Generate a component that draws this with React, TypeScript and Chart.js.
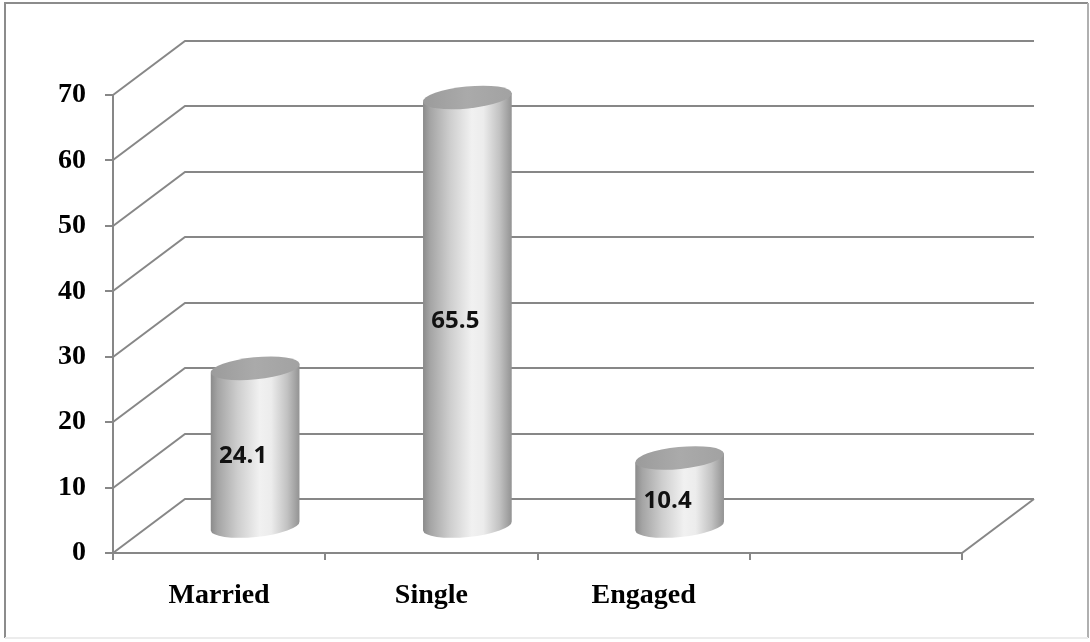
import { useEffect, useRef } from "react";
import { Chart, registerables } from "chart.js";

Chart.register(...registerables);

// Marital status shares (%)
const categories = ["Married", "Single", "Engaged", ""];
const shares = [24.1, 65.5, 10.4];
const yMin = 0;
const yMax = 70;
const yStep = 10;

// Oblique projection of the back wall
const DEPTH_X = 72;
const DEPTH_Y = 54;
const GRID_COLOR = "#878787";

const serifFont = '"Liberation Serif", "Times New Roman", serif';

const frame3d = {
  id: "frame3d",
  beforeDraw(chart: any) {
    const { ctx, width, height } = chart;
    ctx.save();
    ctx.fillStyle = "#ffffff";
    ctx.fillRect(0, 0, width, height);
    ctx.lineWidth = 2;
    ctx.strokeStyle = "#8c8c8c";
    ctx.beginPath();
    ctx.moveTo(5, height - 4);
    ctx.lineTo(5, 3);
    ctx.lineTo(width - 2, 3);
    ctx.stroke();
    ctx.strokeStyle = "#b0b0b0";
    ctx.beginPath();
    ctx.moveTo(width - 2, 3);
    ctx.lineTo(width - 2, height - 4);
    ctx.stroke();
    ctx.strokeStyle = "#ececec";
    ctx.beginPath();
    ctx.moveTo(5, height - 4);
    ctx.lineTo(width - 2, height - 4);
    ctx.stroke();
    ctx.restore();
  },
  beforeDatasetsDraw(chart: any) {
    const { ctx, chartArea } = chart;
    const yScale = chart.scales.y;
    const { left, right, bottom } = chartArea;
    ctx.save();
    ctx.strokeStyle = GRID_COLOR;
    ctx.lineWidth = 2;
    ctx.lineJoin = "miter";
    ctx.lineCap = "butt";

    // side wall diagonals and back wall grid lines
    for (let v = yMin; v <= yMax; v += yStep) {
      const py = Math.round(yScale.getPixelForValue(v));
      ctx.beginPath();
      ctx.moveTo(left, py);
      ctx.lineTo(left + DEPTH_X, py - DEPTH_Y);
      ctx.lineTo(right + DEPTH_X, py - DEPTH_Y);
      ctx.stroke();
      // tick mark
      ctx.beginPath();
      ctx.moveTo(left - 8, py);
      ctx.lineTo(left, py);
      ctx.stroke();
    }

    // value axis
    ctx.beginPath();
    ctx.moveTo(left, Math.round(yScale.getPixelForValue(yMax)));
    ctx.lineTo(left, bottom);
    ctx.stroke();

    // floor front and right edges
    ctx.beginPath();
    ctx.moveTo(left, bottom);
    ctx.lineTo(right, bottom);
    ctx.lineTo(right + DEPTH_X, bottom - DEPTH_Y);
    ctx.stroke();

    // category boundary ticks
    const n = categories.length;
    for (let i = 0; i <= n; i++) {
      const px = Math.round(left + (i * (right - left)) / n);
      ctx.beginPath();
      ctx.moveTo(px, bottom);
      ctx.lineTo(px, bottom + 7);
      ctx.stroke();
    }
    ctx.restore();
  },
  afterDatasetsDraw(chart: any) {
    const { ctx } = chart;
    const meta = chart.getDatasetMeta(0);
    const values = chart.data.datasets[0].data as number[];
    const rot = -0.1;
    meta.data.forEach((bar: any, i: number) => {
      const { x, y, base, width } = bar.getProps(["x", "y", "base", "width"], true);
      const cx = x + DEPTH_X / 2;
      const yTop = y - DEPTH_Y / 2;
      const yBot = base - DEPTH_Y / 2;
      const rx = width / 2;
      const ry = 11;
      const ex = rx * Math.cos(rot);
      const ey = rx * Math.sin(rot);

      ctx.save();
      // body
      const g = ctx.createLinearGradient(cx - rx, 0, cx + rx, 0);
      g.addColorStop(0, "#8a8a8a");
      g.addColorStop(0.08, "#a4a4a4");
      g.addColorStop(0.3, "#cdcdcd");
      g.addColorStop(0.55, "#f1f1f1");
      g.addColorStop(0.68, "#ececec");
      g.addColorStop(0.86, "#c2c2c2");
      g.addColorStop(1, "#929292");
      ctx.fillStyle = g;
      ctx.beginPath();
      ctx.ellipse(cx, yBot, rx, ry, rot, 0, Math.PI, false);
      ctx.lineTo(cx - ex, yTop - ey);
      ctx.lineTo(cx + ex, yTop + ey);
      ctx.closePath();
      ctx.fill();

      // top cap
      const gt = ctx.createLinearGradient(cx - rx, yTop, cx + rx, yTop);
      gt.addColorStop(0, "#9b9b9b");
      gt.addColorStop(0.5, "#aaaaaa");
      gt.addColorStop(1, "#a2a2a2");
      ctx.fillStyle = gt;
      ctx.beginPath();
      ctx.ellipse(cx, yTop, rx, ry, rot, 0, Math.PI * 2);
      ctx.fill();

      // value label
      ctx.fillStyle = "#111111";
      ctx.font = 'bold 24px "Open Sans", "Noto Sans", sans-serif';
      ctx.textAlign = "center";
      ctx.textBaseline = "middle";
      ctx.fillText(
        values[i].toFixed(1),
        x + DEPTH_X / 3,
        (y + base) / 2 - DEPTH_Y / 3
      );
      ctx.restore();
    });
  },
};

export default function App() {
  const canvasRef = useRef<HTMLCanvasElement | null>(null);

  useEffect(() => {
    const canvas = canvasRef.current;
    if (!canvas) return;
    const chart = new Chart(canvas, {
      type: "bar",
      data: {
        labels: categories,
        datasets: [
          {
            data: shares,
            backgroundColor: "rgba(0,0,0,0)",
            borderWidth: 0,
            categoryPercentage: 1,
            barPercentage: 0.42,
          },
        ],
      },
      options: {
        responsive: false,
        animation: false,
        devicePixelRatio: 1,
        layout: { padding: { top: 95, right: 128, bottom: 0, left: 0 } },
        plugins: {
          legend: { display: false },
          tooltip: { enabled: false },
        },
        scales: {
          x: {
            grid: { display: false, drawTicks: false },
            border: { display: false },
            ticks: {
              color: "#000000",
              padding: 26,
              font: { family: serifFont, size: 28, weight: "bold" },
            },
            afterFit(scale: any) {
              scale.height = 89;
            },
          },
          y: {
            min: yMin,
            max: yMax,
            grid: { display: false, drawTicks: false },
            border: { display: false },
            ticks: {
              stepSize: yStep,
              color: "#000000",
              padding: 27,
              font: { family: serifFont, size: 28, weight: "bold" },
            },
            afterFit(scale: any) {
              scale.width = 113;
            },
          },
        },
      },
      plugins: [frame3d],
    });
    return () => chart.destroy();
  }, []);

  return (
    <div
      style={{
        position: "fixed",
        left: 0,
        top: 0,
        width: 1090,
        height: 642,
        background: "#ffffff",
      }}
    >
      <canvas
        ref={canvasRef}
        width={1090}
        height={642}
        style={{ display: "block", width: 1090, height: 642 }}
      />
    </div>
  );
}
